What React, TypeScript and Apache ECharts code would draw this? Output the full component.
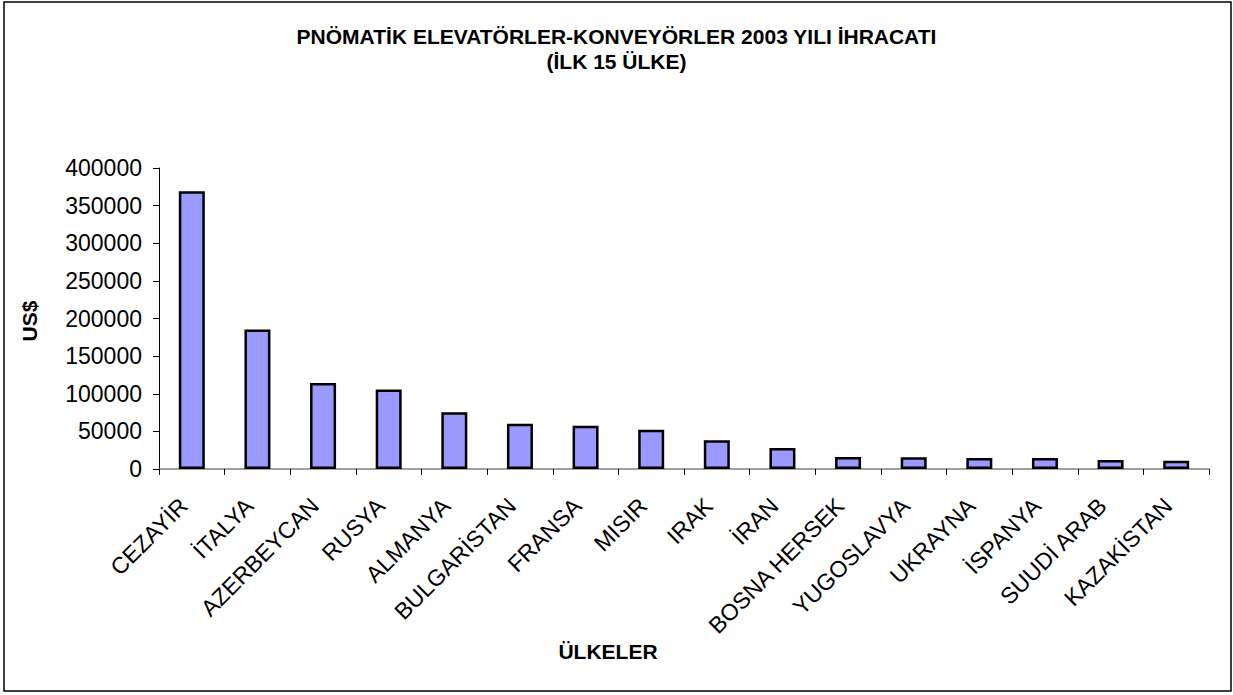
import React, { useEffect, useRef } from "react";
import * as echarts from "echarts";

const titleLines = ["PNÖMATİK ELEVATÖRLER-KONVEYÖRLER 2003 YILI İHRACATI", "(İLK 15 ÜLKE)"];
const xAxisTitle = "ÜLKELER";
const yAxisTitle = "US$";
const categories = [
  "CEZAYİR", "İTALYA", "AZERBEYCAN", "RUSYA", "ALMANYA", "BULGARİSTAN", "FRANSA", "MISIR",
  "IRAK", "İRAN", "BOSNA HERSEK", "YUGOSLAVYA", "UKRAYNA", "İSPANYA", "SUUDİ ARAB", "KAZAKİSTAN",
];
const values = [
  369000, 185500, 114400, 105500, 75400, 60200, 57600, 52300,
  38100, 27900, 16000, 15500, 14600, 14600, 12000, 11000,
];
const yMin = 0;
const yMax = 400000;
const yInterval = 50000;

const FONT = "'Liberation Sans', Arial, sans-serif";

export default function App() {
  const ref = useRef<HTMLDivElement>(null);
  useEffect(() => {
    if (!ref.current) return;
    const chart = echarts.init(ref.current, null, { renderer: "svg" });
    chart.setOption({
      animation: false,
      backgroundColor: "#ffffff",
      title: {
        text: titleLines.join("\n"),
        left: "center",
        top: 19,
        textStyle: { fontFamily: FONT, fontSize: 21, fontWeight: "bold", color: "#000", lineHeight: 25 },
      },
      grid: { left: 159, right: 24, top: 168, bottom: 226, containLabel: false },
      xAxis: {
        type: "category",
        data: categories,
        axisLine: { lineStyle: { color: "#808080", width: 1.5 } },
        axisTick: { show: true, length: 6, lineStyle: { color: "#000", width: 1 } },
        axisLabel: {
          interval: 0,
          rotate: 45,
          fontFamily: FONT,
          fontSize: 23,
          color: "#000",
          margin: 41,
          verticalAlign: "bottom",
        },
      },
      yAxis: {
        type: "value",
        min: yMin,
        max: yMax,
        interval: yInterval,
        axisLine: { show: true, lineStyle: { color: "#000", width: 1 } },
        axisTick: { show: true, length: 6, lineStyle: { color: "#000", width: 1 } },
        axisLabel: {
          fontFamily: FONT,
          fontSize: 23,
          color: "#000",
          margin: 17,
          formatter: (v: number) => String(v),
        },
        splitLine: { show: false },
      },
      series: [
        {
          type: "bar",
          data: values,
          barWidth: 26,
          itemStyle: { color: "#9999FF", borderColor: "#000", borderWidth: 2.5 },
        },
      ],
      graphic: [
        {
          type: "rect",
          shape: { x: 4, y: 2, width: 1227, height: 689 },
          style: { fill: "none", stroke: "#000", lineWidth: 1.5 },
          silent: true,
        },
        {
          type: "text",
          x: 29,
          y: 321,
          rotation: Math.PI / 2,
          style: {
            text: yAxisTitle,
            fontFamily: FONT,
            fontSize: 21,
            fontWeight: "bold",
            fill: "#000",
            align: "center",
            verticalAlign: "middle",
          },
        },
        {
          type: "text",
          x: 608,
          y: 651,
          style: {
            text: xAxisTitle,
            fontFamily: FONT,
            fontSize: 21,
            fontWeight: "bold",
            fill: "#000",
            align: "center",
            verticalAlign: "middle",
          },
        },
      ],
    });
    return () => chart.dispose();
  }, []);
  return (
    <div
      ref={ref}
      style={{ position: "absolute", left: 0, top: 0, width: 1233, height: 695 }}
    />
  );
}
